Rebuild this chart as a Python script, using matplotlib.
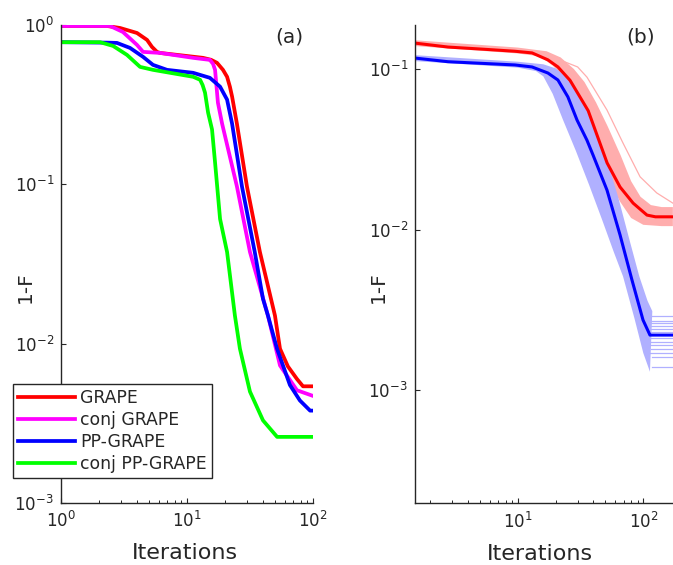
import matplotlib
matplotlib.use("Agg")
import matplotlib.pyplot as plt
from matplotlib.ticker import LogLocator, NullLocator

# ---- panel (a): four optimisers, 1-F vs iterations ----
grape_it = [1, 2.32, 2.94, 4.01, 4.82, 5.27, 5.78, 6.11, 13.4, 15.5, 17.3, 19.3,
            20.8, 21.9, 22.8, 24.9, 29.9, 37.9, 49.9, 54.7, 63.2, 74.6, 83.3, 100]
grape_val = [0.986, 0.986, 0.958, 0.891, 0.806, 0.729, 0.678, 0.668, 0.622, 0.605,
             0.579, 0.523, 0.473, 0.41, 0.355, 0.24, 0.097, 0.0376, 0.0150, 0.0093,
             0.0072, 0.0060, 0.0054, 0.0054]

conj_it = [1, 2.45, 3.10, 4.01, 4.48, 6.11, 11.2, 15.2, 16.1, 16.7, 17.6, 19.0, 24.9,
           31.6, 43.9, 54.7, 74.6, 100]
conj_val = [0.986, 0.986, 0.904, 0.750, 0.678, 0.668, 0.622, 0.604, 0.570, 0.523,
            0.325, 0.24, 0.097, 0.0376, 0.0150, 0.0073, 0.0051, 0.0047]

pp_it = [1, 2.32, 2.78, 3.53, 4.48, 5.37, 6.94, 11.2, 15.2, 18.3, 20.8, 22.8, 27.3,
         34.5, 40.1, 43.9, 51.8, 65.6, 78.7, 94.8, 100]
pp_val = [0.78, 0.775, 0.772, 0.718, 0.631, 0.562, 0.523, 0.501, 0.466, 0.410, 0.340,
          0.24, 0.097, 0.0376, 0.0191, 0.0150, 0.0093, 0.0055, 0.0044, 0.0038, 0.0038]

conjpp_it = [1, 2.04, 2.59, 3.34, 4.24, 5.37, 11.2, 12.7, 13.3, 13.9, 14.7, 15.8,
             16.7, 18.3, 20.8, 24.0, 26.3, 31.6, 40.1, 51.9, 100]
conjpp_val = [0.78, 0.78, 0.739, 0.649, 0.546, 0.523, 0.473, 0.453, 0.42, 0.376,
              0.282, 0.221, 0.137, 0.0606, 0.0376, 0.0150, 0.0093, 0.0050, 0.0033,
              0.0026, 0.0026]

series_a = [
    ("GRAPE", grape_it, grape_val, "#ff0000"),
    ("conj GRAPE", conj_it, conj_val, "#ff00ff"),
    ("PP-GRAPE", pp_it, pp_val, "#0000ff"),
    ("conj PP-GRAPE", conjpp_it, conjpp_val, "#00ff00"),
]

# ---- panel (b): mean curves plus spread of individual runs ----
red_it = [1.52, 2.79, 5.2, 9.5, 13.0, 17.4, 20.9, 26.1, 36.4, 51.5, 65.3, 83, 107,
          125, 172]
red_val = [0.145, 0.137, 0.133, 0.129, 0.126, 0.114, 0.103, 0.085, 0.055, 0.026,
           0.0184, 0.0146, 0.0123, 0.0120, 0.0120]

blue_it = [1.52, 2.79, 9.5, 13.0, 17.4, 20.9, 25.1, 29.7, 35.6, 39.8, 51.4, 65.3,
           81.3, 99.5, 113, 172]
blue_val = [0.117, 0.111, 0.106, 0.103, 0.0944, 0.0854, 0.067, 0.048, 0.036, 0.0291,
            0.0176, 0.00925, 0.00484, 0.00273, 0.0022, 0.0022]

# spread of the runs: upper / lower edges
red_hi_it = [1.52, 10, 17, 22, 28, 34, 42, 52, 66, 80, 95, 115, 140, 172]
red_hi_val = [0.151, 0.136, 0.129, 0.118, 0.100, 0.083, 0.062, 0.044, 0.029, 0.020,
              0.016, 0.0142, 0.0138, 0.0138]
red_lo_it = [1.52, 10, 15, 19, 23, 28, 36, 45, 54, 65, 80, 100, 140, 172]
red_lo_val = [0.139, 0.125, 0.120, 0.105, 0.090, 0.072, 0.048, 0.030, 0.020, 0.0150,
              0.0118, 0.0107, 0.0105, 0.0105]

blue_hi_it = [1.52, 10, 16, 20, 25, 31, 39, 50, 63, 78, 93, 108, 118]
blue_hi_val = [0.122, 0.111, 0.107, 0.101, 0.088, 0.068, 0.048, 0.029, 0.016, 0.0085,
               0.0051, 0.0036, 0.0031]
blue_lo_it = [1.52, 10, 14, 16, 19, 23, 29, 37, 47, 58, 69, 85, 100, 113]
blue_lo_val = [0.112, 0.102, 0.097, 0.090, 0.070, 0.048, 0.031, 0.019, 0.0115,
               0.0073, 0.0051, 0.0028, 0.0017, 0.0013]

# final plateaus of the individual PP-GRAPE runs
blue_tail_start = [112, 110, 112, 108, 114, 110, 112, 115, 112, 116, 114, 117, 118]
blue_tail_level = [0.0029, 0.0027, 0.0026, 0.0025, 0.0024, 0.0023, 0.0021, 0.0020,
                   0.0019, 0.0018, 0.0017, 0.0016, 0.0014]

# slow GRAPE run outside the band
red_out_it = [1.52, 10, 17, 21, 25, 30, 35.6, 51.4, 68.9, 94.3, 128, 172]
red_out_val = [0.146, 0.131, 0.122, 0.115, 0.109, 0.103, 0.089, 0.0555, 0.0346,
               0.0213, 0.0169, 0.0146]

INK = "#262626"
LIGHT_RED = "#ffadad"
LIGHT_BLUE = "#b0b0ff"

plt.rcParams["font.family"] = "DejaVu Sans"
plt.rcParams["axes.unicode_minus"] = False

fig = plt.figure(figsize=(6.73, 5.65), dpi=100)
ax1 = fig.add_axes([61 / 673, 1 - 503 / 565, 252 / 673, 478 / 565])
ax2 = fig.add_axes([415 / 673, 1 - 503.3 / 565, 258 / 673, 478.3 / 565])


def style(ax):
    ax.set_xscale("log")
    ax.set_yscale("log")
    for s in ("top", "right"):
        ax.spines[s].set_visible(False)
    for s in ("left", "bottom"):
        ax.spines[s].set_color(INK)
        ax.spines[s].set_linewidth(1.0)
    ax.xaxis.set_major_locator(LogLocator(base=10))
    ax.xaxis.set_minor_locator(LogLocator(base=10, subs=range(2, 10)))
    ax.yaxis.set_minor_locator(NullLocator())
    ax.tick_params(which="both", direction="in", colors=INK, labelsize=12)
    ax.tick_params(which="major", length=3.6, width=0.8, pad=5)
    ax.tick_params(axis="x", which="major", pad=6)
    ax.tick_params(which="minor", length=2.0, width=0.7)
    ax.set_xlabel("Iterations", fontsize=16, color=INK, va="center")
    ax.set_ylabel("1-F", fontsize=14.5, color=INK, va="center")


# (a)
for name, it, val, col in series_a:
    ax1.plot(it, val, color=col, lw=2.7, label=name)
style(ax1)
ax1.set_xlim(1, 100)
ax1.set_ylim(1e-3, 1)
ax1.xaxis.set_label_coords(0.492, -0.105)
ax1.yaxis.set_label_coords(-0.143, 0.452)
ax1.text(0.905, 0.975, "(a)", transform=ax1.transAxes, fontsize=14.5, color=INK,
         ha="center", va="center")
leg = ax1.legend(loc="lower left", bbox_to_anchor=(-0.19, 0.0523), fontsize=12.4,
                 frameon=True, fancybox=False, framealpha=1, edgecolor=INK,
                 handlelength=3.3, handletextpad=0.3, labelspacing=0.22,
                 borderpad=0.3, borderaxespad=0)
leg.get_frame().set_linewidth(1.0)
for t in leg.get_texts():
    t.set_color(INK)

# (b)
ax2.fill(red_hi_it + red_lo_it[::-1], red_hi_val + red_lo_val[::-1],
         color=LIGHT_RED, lw=0)
ax2.fill(blue_hi_it + blue_lo_it[::-1], blue_hi_val + blue_lo_val[::-1],
         color=LIGHT_BLUE, lw=0)
for x0, lev in zip(blue_tail_start, blue_tail_level):
    ax2.plot([x0, 172], [lev, lev], color=LIGHT_BLUE, lw=0.9)
ax2.plot(red_out_it, red_out_val, color=LIGHT_RED, lw=0.9)
ax2.plot(red_it, red_val, color="#ff0000", lw=2.2)
ax2.plot(blue_it, blue_val, color="#0000ff", lw=2.2)
style(ax2)
ax2.set_xlim(1.521, 172.4)
ax2.set_ylim(1.97e-4, 0.188)
ax2.xaxis.set_label_coords(0.484, -0.105)
ax2.yaxis.set_label_coords(-0.143, 0.452)
ax2.text(0.875, 0.975, "(b)", transform=ax2.transAxes, fontsize=14.5, color=INK,
         ha="center", va="center")

fig.savefig("out.png", dpi=100)
